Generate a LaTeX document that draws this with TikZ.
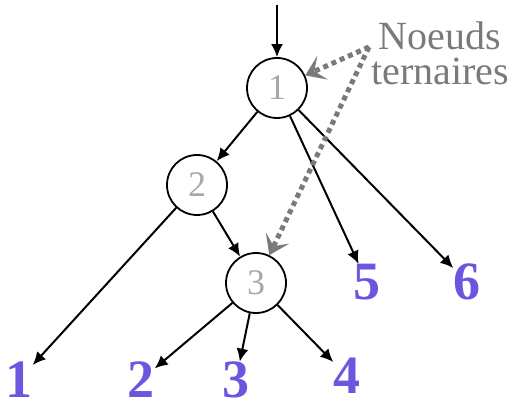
\documentclass[tikz,border=0pt]{standalone}
\usepackage{fontspec}
\setmainfont{Liberation Serif}
\usetikzlibrary{arrows.meta}
\definecolor{leafc}{HTML}{6E55E0}
\definecolor{numc}{HTML}{A8A8A8}
\definecolor{notec}{HTML}{7A7A7A}
\tikzset{
  inner/.style={circle,draw,line width=1.8pt,minimum size=60pt,inner sep=0pt,text=numc,font=\fontsize{36}{36}\selectfont},
  leaf/.style={text=leafc,font=\bfseries\fontsize{54}{54}\selectfont,inner sep=0pt},
  edge/.style={line width=2pt,-{Latex[length=13pt,width=12pt]}},
  note/.style={line width=5pt,color=notec,dash pattern=on 5pt off 4pt,-{Stealth[length=19pt,width=26pt,inset=9pt,line width=0pt]}}
}
\begin{document}
\begin{tikzpicture}[x=1pt,y=-1pt]
\useasboundingbox (0,0) rectangle (524,403);
\node[inner] (n1) at (277,88) {1};
\node[inner] (n2) at (197,185) {2};
\node[inner] (n3) at (256,283) {3};
\node[leaf] (l1) at (19,380) {1};
\node[leaf] (l2) at (141,380) {2};
\node[leaf] (l3) at (236,380) {3};
\node[leaf] (l4) at (347,376) {4};
\node[leaf] (l5) at (367,282) {5};
\node[leaf] (l6) at (467,282) {6};
\coordinate (top) at (277,5);
\node[text=notec,font=\fontsize{40}{35}\selectfont,align=center,inner sep=0pt] (note) at (440,53) {Noeuds\\ternaires};
\coordinate (ns) at (369,47);
\draw[edge] (top) -- (n1);
\draw[edge] (n1) -- (n2);
\draw[edge] (n1) -- (l5);
\draw[edge] (n1) -- (l6);
\draw[edge] (n2) -- (l1);
\draw[edge] (n2) -- (n3);
\draw[edge] (n3) -- (l2);
\draw[edge] (n3) -- (l3);
\draw[edge] (n3) -- (l4);
\draw[note] (ns) -- (n1);
\draw[note] (ns) -- (n3);
\end{tikzpicture}
\end{document}
